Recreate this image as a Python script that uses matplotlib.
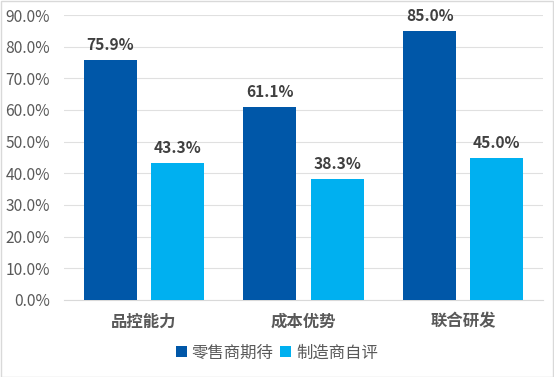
import matplotlib
matplotlib.use("Agg")
import matplotlib.pyplot as plt
from matplotlib.patches import Rectangle
import numpy as np

plt.rcParams['font.family'] = ['Noto Sans CJK SC', 'DejaVu Sans']

categories = ["品控能力", "成本优势", "联合研发"]
series_names = ["零售商期待", "制造商自评"]
retailer = [75.9, 61.1, 85.0]
maker = [43.3, 38.3, 45.0]
yticks = [0, 10, 20, 30, 40, 50, 60, 70, 80, 90]

colors = ["#0057A8", "#00B0F0"]
text_color = "#595959"

W, H = 554, 377
fig = plt.figure(figsize=(W / 100, H / 100), dpi=100)
ax = fig.add_axes([64 / W, 1 - 300 / H, (543 - 64) / W, (300 - 15) / H])

x = np.arange(len(categories))
bw = 0.332
off = 0.21
b1 = ax.bar(x - off, retailer, bw, color=colors[0], label=series_names[0], zorder=3)
b2 = ax.bar(x + off, maker, bw, color=colors[1], label=series_names[1], zorder=3)

for bars, vals in ((b1, retailer), (b2, maker)):
    for r, v in zip(bars, vals):
        ax.annotate(f"{v:.1f}%", (r.get_x() + r.get_width() / 2, v),
                    xytext=(0, 5), textcoords="offset points",
                    ha="center", va="bottom", fontsize=11.2,
                    fontweight="bold", color="#404040")

ax.set_xlim(-0.5, 2.5)
ax.set_ylim(0, 90)
ax.set_yticks(yticks)
ax.set_yticklabels([f"{t:.1f}%" for t in yticks], fontsize=11.2, color=text_color)
ax.set_xticks(x)
ax.set_xticklabels(categories, fontsize=11.8, fontweight="bold", color=text_color)
ax.tick_params(axis="both", length=0)
ax.tick_params(axis="y", pad=10)
ax.tick_params(axis="x", pad=9)
ax.grid(axis="y", color="#E0E0E0", linewidth=0.8, zorder=0)
for s in ["top", "right", "left"]:
    ax.spines[s].set_visible(False)
ax.spines["bottom"].set_color("#D9D9D9")

leg = fig.legend(loc="center", bbox_to_anchor=(0.5, 1 - 353 / H), ncol=2,
                 frameon=False, fontsize=11.8, handlelength=0.65, handleheight=0.65,
                 handletextpad=0.3, columnspacing=0.4)
for t in leg.get_texts():
    t.set_color(text_color)

fig.patches.append(Rectangle((0.5 / W, 0.5 / H), 1 - 1.5 / W, 1 - 1.5 / H,
                             transform=fig.transFigure, fill=False,
                             edgecolor="#D9D9D9", linewidth=1))

fig.savefig("out.png", dpi=100)
